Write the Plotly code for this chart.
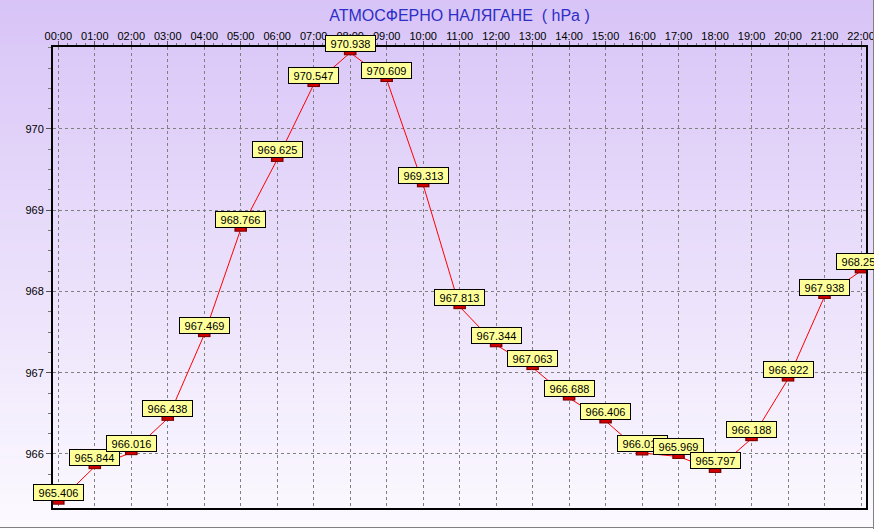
import plotly.graph_objects as go

hours = ["00:00", "01:00", "02:00", "03:00", "04:00", "05:00", "06:00", "07:00",
         "08:00", "09:00", "10:00", "11:00", "12:00", "13:00", "14:00", "15:00",
         "16:00", "17:00", "18:00", "19:00", "20:00", "21:00", "22:00"]
pressure = [965.406, 965.844, 966.016, 966.438, 967.469, 968.766, 969.625, 970.547,
            970.938, 970.609, 969.313, 967.813, 967.344, 967.063, 966.688, 966.406,
            966.012, 965.969, 965.797, 966.188, 966.922, 967.938, 968.253]
y_ticks = [966, 967, 968, 969, 970]

W, H = 874, 529
ML, MR, MT, MB = 53, 8, 47, 21
PW, PH = W - ML - MR, H - MT - MB

xs = list(range(len(hours)))

fig = go.Figure()

# line
fig.add_trace(go.Scatter(x=xs, y=pressure, mode="lines",
                         line=dict(color="#FF0000", width=1), hoverinfo="skip",
                         showlegend=False))
# markers (small red rectangles)
fig.add_trace(go.Scatter(x=xs, y=pressure, mode="markers",
                         marker=dict(symbol="line-ew", size=9,
                                     line=dict(color="#7A0000", width=5)),
                         hoverinfo="skip", showlegend=False))
fig.add_trace(go.Scatter(x=xs, y=pressure, mode="markers",
                         marker=dict(symbol="line-ew", size=7,
                                     line=dict(color="#D00000", width=3)),
                         hoverinfo="skip", showlegend=False))

# value labels
for x, v in zip(xs, pressure):
    fig.add_annotation(x=x, y=v, text=f"{v:.3f}", showarrow=False,
                       xanchor="center", yanchor="bottom", yshift=1,
                       font=dict(family="Liberation Sans, Arial", size=11, color="black"),
                       bgcolor="#FFFF99", bordercolor="black", borderwidth=1,
                       borderpad=1, width=47, height=13)

# background gradient bands (paper coords)
def px2px(px):
    return (px - ML) / PW

def py2py(py):
    return (H - MB - py) / PH

top = (216, 196, 247)
bot = (252, 250, 255)
n = 106
shapes = []
for i in range(n):
    t = i / (n - 1)
    c = tuple(round(top[k] + (bot[k] - top[k]) * t) for k in range(3))
    y0 = H * i / n
    y1 = H * (i + 1) / n + 0.6
    shapes.append(dict(type="rect", xref="paper", yref="paper",
                       x0=px2px(0), x1=px2px(W), y0=py2py(y1), y1=py2py(y0),
                       fillcolor="rgb(%d,%d,%d)" % c, line=dict(width=0),
                       layer="below"))
# window border (right and bottom)
shapes.append(dict(type="line", xref="paper", yref="paper",
                   x0=px2px(W - 0.5), x1=px2px(W - 0.5), y0=py2py(H), y1=py2py(0),
                   line=dict(color="#808080", width=1), layer="above"))
shapes.append(dict(type="line", xref="paper", yref="paper",
                   x0=px2px(0), x1=px2px(W), y0=py2py(H - 1.5), y1=py2py(H - 1.5),
                   line=dict(color="#808080", width=1), layer="above"))

fig.update_layout(
    width=W, height=H,
    margin=dict(l=ML, r=MR, t=MT, b=MB, pad=0, autoexpand=False),
    paper_bgcolor="white",
    plot_bgcolor="rgba(0,0,0,0)",
    shapes=shapes,
    title=dict(text="АТМОСФЕРНО НАЛЯГАНЕ  ( hPa )", x=0.5, xref="paper",
               xanchor="center", y=1 - 15 / H, yref="container", yanchor="middle",
               font=dict(family="Liberation Sans, Arial", size=16, color="#2E2EC8")),
    font=dict(family="Liberation Sans, Arial", size=11, color="black"),
    xaxis=dict(
        side="top", range=[-0.145, 22.137], automargin=False,
        tickmode="array", tickvals=xs, ticktext=hours,
        ticklabeloverflow="allow", ticklabelstandoff=-3,
        ticks="outside", ticklen=4, tickcolor="#555555", tickwidth=1,
        minor=dict(tickmode="linear", tick0=0, dtick=0.25, ticks="outside",
                   ticklen=2, tickcolor="#777777", showgrid=False),
        showgrid=True, gridcolor="#808080", gridwidth=1, griddash="3px,3px",
        showline=True, linecolor="black", linewidth=2, mirror=True,
        zeroline=False, tickfont=dict(size=11),
    ),
    yaxis=dict(
        range=[965.335, 971.009], automargin=False,
        tickmode="array", tickvals=y_ticks, ticktext=[str(t) for t in y_ticks],
        ticks="outside", ticklen=5, tickcolor="#555555", tickwidth=1,
        minor=dict(tickmode="linear", tick0=966, dtick=0.25, ticks="outside",
                   ticklen=3, tickcolor="#777777", showgrid=False),
        showgrid=True, gridcolor="#808080", gridwidth=1, griddash="3px,3px",
        showline=True, linecolor="black", linewidth=2, mirror=True,
        zeroline=False, tickfont=dict(size=11),
    ),
)

fig.write_html("out.html",
               config={"displayModeBar": False},
               post_script="document.body.style.margin='0';"
                           "document.body.style.overflow='hidden';"
                           "document.documentElement.style.overflow='hidden';")
